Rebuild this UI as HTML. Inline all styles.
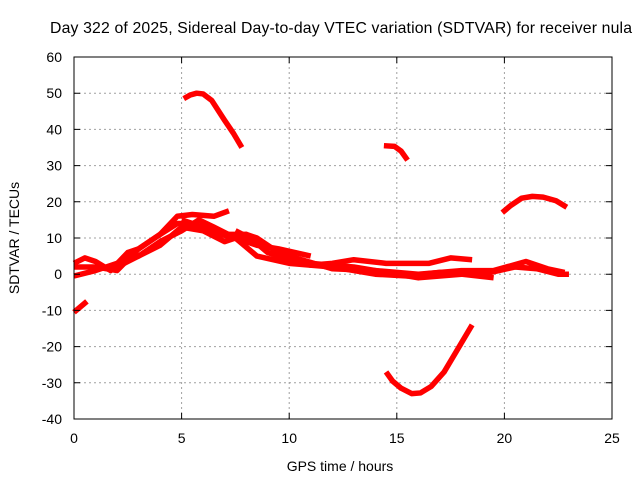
<!DOCTYPE html>
<html><head><meta charset="utf-8"><style>
body{margin:0;background:#fff;}
svg text{font-family:"Liberation Sans",sans-serif;font-size:14px;fill:#000;}
</style></head><body>
<svg width="640" height="480" xmlns="http://www.w3.org/2000/svg">
<g id="grid"></g>
<g id="series"></g>
<rect x="74" y="57" width="538" height="362" fill="none" stroke="#000" stroke-width="1"/>
<g id="ticks"></g>
<text x="341" y="33" text-anchor="middle" style="font-size:15.8px" textLength="582">Day 322 of 2025, Sidereal Day-to-day VTEC variation (SDTVAR) for receiver nula</text>
<text x="340" y="471" text-anchor="middle">GPS time / hours</text>
<text x="19" y="238" text-anchor="middle" transform="rotate(-90 19 238)">SDTVAR / TECUs</text>
</svg>
<script>
const xTicks=[0,5,10,15,20,25];
const yTicks=[-40,-30,-20,-10,0,10,20,30,40,50,60];
const seriesA=[[0,-10.5],[0.6,-7.5]];
const seriesB=[[5.1,48.5],[5.4,49.5],[5.7,50],[6,49.8],[6.4,48],[7,42.5],[7.4,39],[7.8,35]];
const seriesC=[[14.4,35.5],[14.9,35.3],[15.2,34],[15.5,31.5]];
const seriesD=[[14.5,-27],[14.8,-29.5],[15.2,-31.5],[15.7,-33],[16.1,-32.8],[16.6,-31],[17.2,-27],[17.8,-21],[18.5,-14]];
const seriesE=[[19.9,17],[20.3,19],[20.8,21],[21.3,21.5],[21.8,21.3],[22.4,20.3],[22.9,18.5]];
const seriesF1=[[0,3],[0.5,4.5],[1,3.5],[1.7,1],[2.5,6],[3,7],[4,11],[4.8,14],[5.3,14],[6,13],[6.8,11],[7.5,10],[8.5,8],[9.5,7],[11,5]];
const seriesF2=[[0,-0.5],[1,1],[2,3],[3,5],[4,9],[5,12],[5.8,15],[6.5,13],[7.5,10],[8.5,5],[10,3],[12,2],[13,1],[14,0],[15.5,-0.5],[17,0.5],[19,0],[20.5,2],[21.5,1.5],[22.5,0],[23,0]];
const seriesF3=[[0,2],[1,2],[2,1],[3,7],[4,11],[4.8,16],[5.5,16.5],[6.5,16],[7.2,17.5]];
const seriesF4=[[5,15],[6,13],[7,11],[8,11],[9,6],[10,4],[11,2.5],[12,3],[13,4],[14.5,3],[15.5,3],[16.5,3],[17.5,4.5],[18.5,4]];
const seriesF5=[[7.5,12],[8.5,9],[10,5],[12,1.5],[14,1],[16,0],[18,1],[19.5,1],[21,3.5],[22,1.5],[22.8,0.5]];
const seriesF6=[[2,2],[3,5],[4,8],[5,13],[6,12],[7,9],[8,11],[8.5,10],[9.5,6],[11,3],[13,2],[15,0],[16,-1],[18,0],[19.5,-1]];
const allSeries=[seriesA,seriesB,seriesC,seriesD,seriesE,seriesF1,seriesF2,seriesF3,seriesF4,seriesF5,seriesF6];
const NS="http://www.w3.org/2000/svg";
function xs(h){return 74+h*(538/25);}
function ys(v){return 419-(v+40)*(362/100);}
const grid=document.getElementById('grid'),ticks=document.getElementById('ticks'),sg=document.getElementById('series');
xTicks.forEach(t=>{
  const x=xs(t);
  if(t>0&&t<25){const l=document.createElementNS(NS,'line');
  
  
  l.setAttribute('x1',x);l.setAttribute('x2',x);l.setAttribute('y1',57);l.setAttribute('y2',419);
  l.setAttribute('stroke','#a0a0a0');l.setAttribute('stroke-dasharray','2,3');grid.appendChild(l);}
  const tk=document.createElementNS(NS,'path');
  
  
  tk.setAttribute('d',`M${x},419v-6M${x},57v6`);tk.setAttribute('stroke','#000');ticks.appendChild(tk);
  const tx=document.createElementNS(NS,'text');
  
  
  tx.setAttribute('x',x);tx.setAttribute('y',443);tx.setAttribute('text-anchor','middle');tx.textContent=t;ticks.appendChild(tx);
});
yTicks.forEach(t=>{
  const y=ys(t);
  if(t>-40&&t<60){const l=document.createElementNS(NS,'line');
  
  
  l.setAttribute('x1',74);l.setAttribute('x2',612);l.setAttribute('y1',y);l.setAttribute('y2',y);
  l.setAttribute('stroke','#a0a0a0');l.setAttribute('stroke-dasharray','2,3');grid.appendChild(l);}
  const tk=document.createElementNS(NS,'path');
  
  
  tk.setAttribute('d',`M74,${y}h6M612,${y}h-6`);tk.setAttribute('stroke','#000');ticks.appendChild(tk);
  const tx=document.createElementNS(NS,'text');
  
  
  tx.setAttribute('x',62);tx.setAttribute('y',y+5);tx.setAttribute('text-anchor','end');tx.textContent=t;ticks.appendChild(tx);
});
allSeries.forEach(s=>{
  const p=document.createElementNS(NS,'polyline');
  
  
  p.setAttribute('points',s.map(d=>xs(d[0])+','+ys(d[1])).join(' '));
  p.setAttribute('fill','none');p.setAttribute('stroke','#ff0000');p.setAttribute('stroke-width','5.5');
  p.setAttribute('stroke-linejoin','round');
  sg.appendChild(p);
});
</script>
</body></html>
